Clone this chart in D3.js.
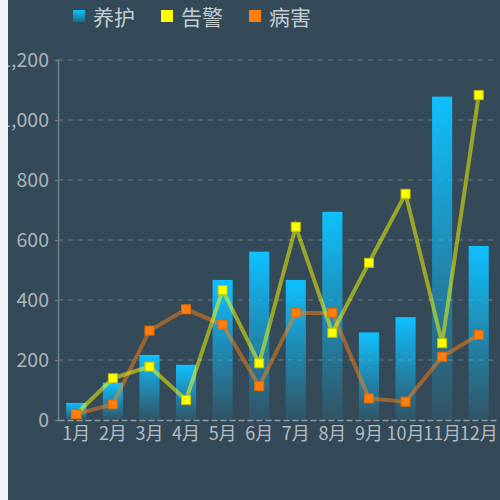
<!DOCTYPE html>
<html><head><meta charset="utf-8">
<script src="https://cdn.jsdelivr.net/npm/d3@7"></script>
<style>html,body{margin:0;padding:0;background:#344a58;}svg{display:block;}</style>
</head><body>
<svg id="c" width="500" height="500"></svg>
<script>
const months = ["1月","2月","3月","4月","5月","6月","7月","8月","9月","10月","11月","12月"];
const seriesNames = ["养护","告警","病害"];
const maintenance = [57,124,217,184,467,561,467,694,292,343,1078,580];
const alarms = [20,139,178,67,433,189,644,291,524,754,256,1083];
const disease = [20,52,298,369,318,113,357,357,72,61,211,284];
const yTicks = [0,200,400,600,800,1000,1200];

const svg = d3.select("#c");
svg.append("rect").attr("x",0).attr("y",0).attr("width",500).attr("height",500).attr("fill","#344a58");

const x = d3.scaleBand().domain(months).range([58,497]).paddingInner(0.45).paddingOuter(0.225);
const y = d3.scaleLinear().domain([0,1200]).range([420,60]);

const defs = svg.append("defs");
const g = defs.append("linearGradient").attr("id","barGrad").attr("x1",0).attr("y1",0).attr("x2",0).attr("y2",1);
g.append("stop").attr("offset","0%").attr("stop-color","#0fc0ff").attr("stop-opacity",1);
g.append("stop").attr("offset","100%").attr("stop-color","#0fc0ff").attr("stop-opacity",0.08);

// grid
svg.append("g").selectAll("line").data(yTicks.filter(d=>d>0)).join("line")
  .attr("x1",58).attr("x2",497).attr("y1",d=>y(d)).attr("y2",d=>y(d))
  .attr("stroke","#6b7f8a").attr("stroke-width",1).attr("stroke-dasharray","5,5");

const font = "'Noto Sans CJK SC', sans-serif";

// y axis
const yAxis = d3.axisLeft(y).tickValues(yTicks).tickSize(3).tickPadding(6).tickFormat(d3.format(","));
const ya = svg.append("g").attr("transform","translate(58,0)").call(yAxis);
ya.select(".domain").attr("stroke","#6e828c").attr("stroke-width",1.5);
ya.selectAll(".tick line").attr("stroke","#6e828c");
ya.selectAll("text").attr("fill","#aab4ba").style("font-size","19.5px").style("font-family",font);

// bars
svg.append("g").selectAll("rect").data(maintenance).join("rect")
  .attr("x",(d,i)=>x(months[i])).attr("width",x.bandwidth())
  .attr("y",d=>y(d)).attr("height",d=>y(0)-y(d))
  .attr("fill","url(#barGrad)");

// x axis
const xAxis = d3.axisBottom(x).tickSize(0).tickPadding(7);
const xa = svg.append("g").attr("transform","translate(0,420)").call(xAxis);
xa.select(".domain").attr("stroke","#8c9ba3").attr("stroke-width",1.5).attr("stroke-dasharray","6,3");
xa.selectAll("text").attr("fill","#b4bcc2").style("font-size","18px").style("font-family",font);

const cx = i => x(months[i]) + x.bandwidth()/2;
const line = d3.line().x((d,i)=>cx(i)).y(d=>y(d));

svg.append("path").datum(disease).attr("d",line).attr("fill","none")
  .attr("stroke","#ff7f0e").attr("stroke-opacity",0.5).attr("stroke-width",4);
svg.append("path").datum(alarms).attr("d",line).attr("fill","none")
  .attr("stroke","#ffff00").attr("stroke-opacity",0.5).attr("stroke-width",4);

svg.append("g").selectAll("rect").data(alarms).join("rect")
  .attr("x",(d,i)=>cx(i)-4.5).attr("y",d=>y(d)-4.5).attr("width",9).attr("height",9)
  .attr("fill","#ffff00").attr("stroke","#c8c000").attr("stroke-width",1);
svg.append("g").selectAll("rect").data(disease).join("rect")
  .attr("x",(d,i)=>cx(i)-4.5).attr("y",d=>y(d)-4.5).attr("width",9).attr("height",9)
  .attr("fill","#ff7f0e").attr("stroke","#e06a00").attr("stroke-width",1);

// legend
const legendX = [73,161,249];
const lg = svg.append("g").selectAll("g").data(seriesNames).join("g")
  .attr("transform",(d,i)=>`translate(${legendX[i]},0)`);
const lgGrad = defs.append("linearGradient").attr("id","lgGrad").attr("x1",0).attr("y1",0).attr("x2",0).attr("y2",1);
lgGrad.append("stop").attr("offset","0%").attr("stop-color","#0fc0ff");
lgGrad.append("stop").attr("offset","100%").attr("stop-color","#1d6a8a");
const lgFill = ["url(#lgGrad)","#ffff00","#ff7f0e"];
lg.append("rect").attr("x",0).attr("y",10).attr("width",12).attr("height",12).attr("fill",(d,i)=>lgFill[i]);
lg.append("text").attr("x",20).attr("y",17).attr("dy","0.36em").text(d=>d)
  .attr("fill","#c4ccd2").style("font-size","21px").style("font-family",font);

// left page strip (covers overflowing label digits as in the reference)
svg.append("rect").attr("x",0).attr("y",0).attr("width",8).attr("height",500).attr("fill","#f2f3f8");
</script>
</body></html>
